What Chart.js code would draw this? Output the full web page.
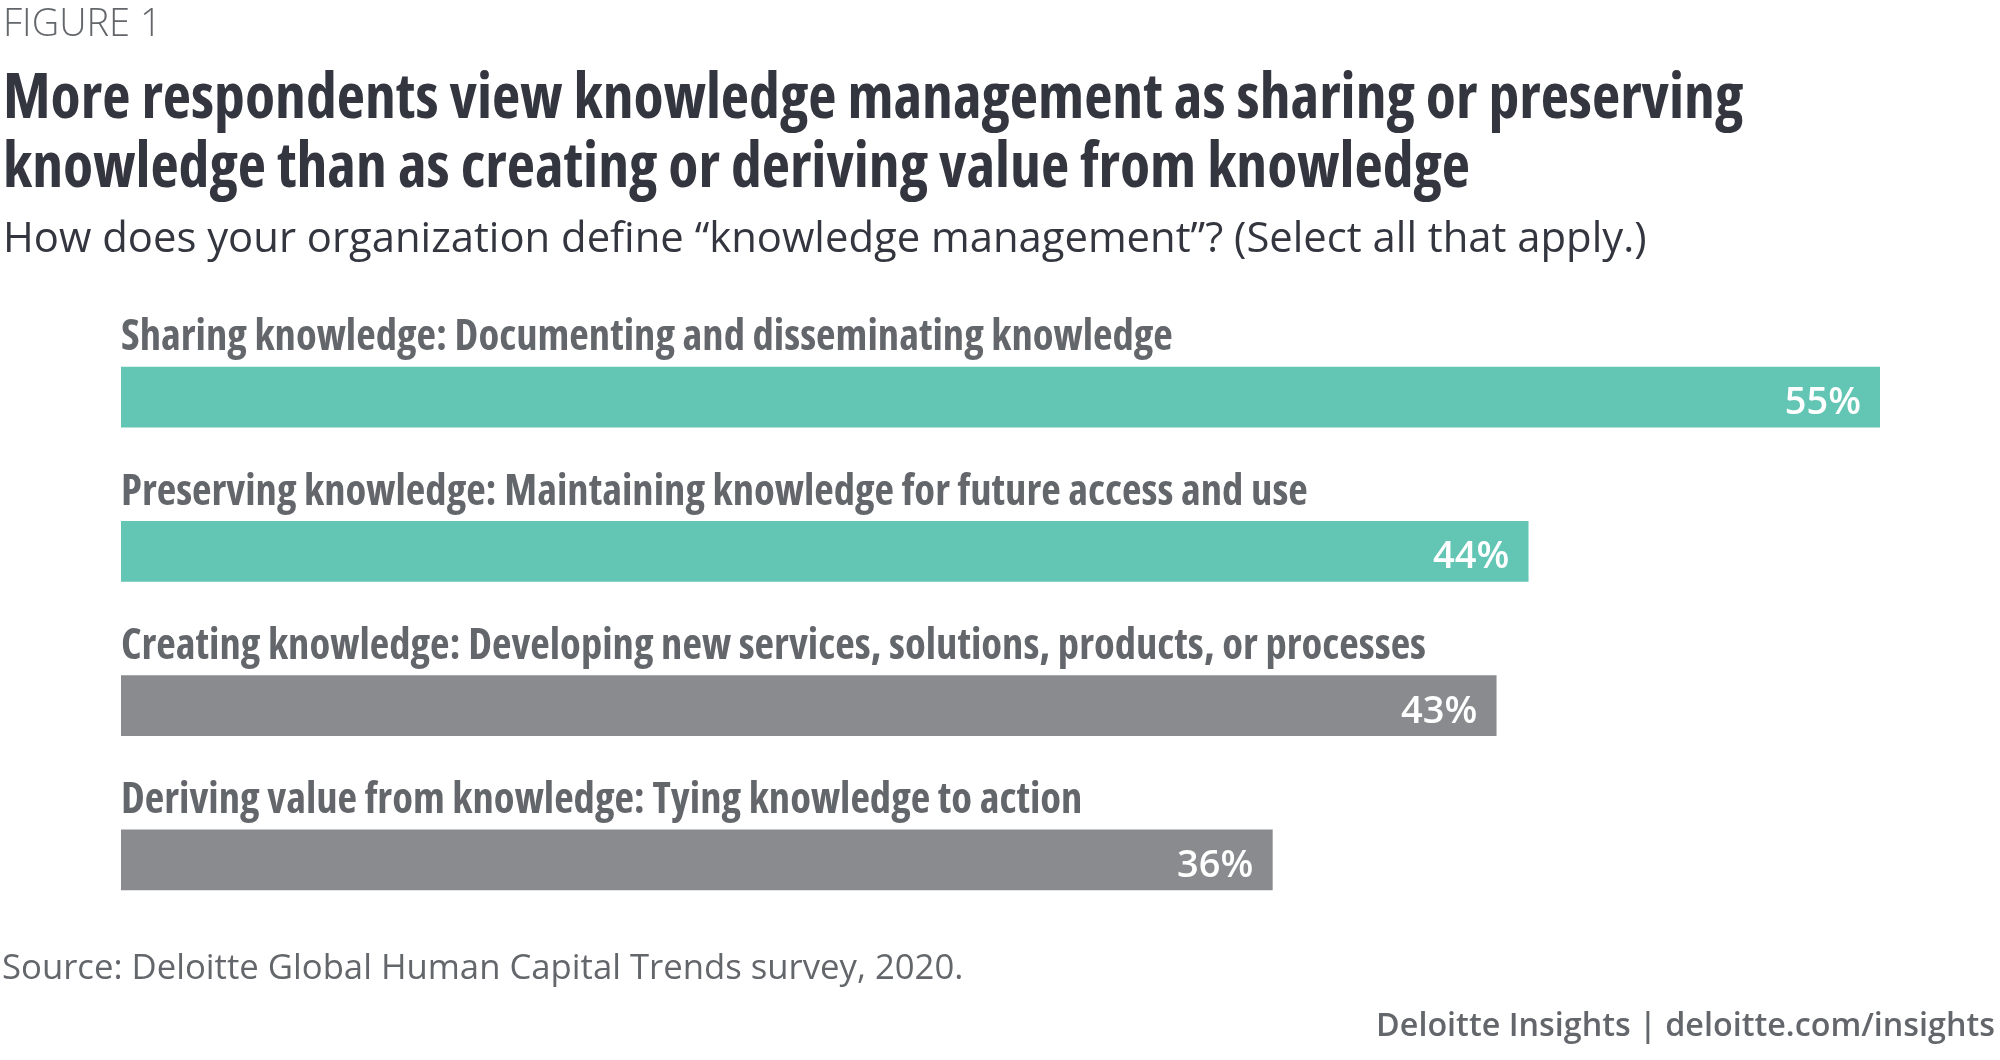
<!DOCTYPE html>
<html>
<head>
<meta charset="utf-8">
<script src="https://cdn.jsdelivr.net/npm/chart.js@4.4.1/dist/chart.umd.min.js"></script>
<style>
html,body{margin:0;padding:0;background:#fff;}
#wrap{position:relative;width:2000px;height:1060px;overflow:hidden;background:#fff;}
#chartBox{position:absolute;left:0;top:0;width:2000px;height:1060px;}
.t{position:absolute;white-space:nowrap;font-family:'Open Sans',sans-serif;margin:0;}
#fig{left:3px;top:2px;font-size:38px;line-height:38px;color:#63666a;font-weight:300;}
#title{left:3px;top:60px;font-size:60px;line-height:69px;font-weight:700;color:#33353f;}
#sub{left:3px;top:215px;font-size:41.8px;line-height:41.8px;color:#33353f;}
#src{left:2px;top:949px;font-size:34.7px;line-height:34.7px;color:#63666a;}
#foot{right:5px;top:1007px;font-size:32.3px;line-height:32.3px;color:#63666a;font-weight:600;}
</style>
</head>
<body>
<div id="wrap">
  <div id="chartBox"><canvas id="c"></canvas></div>
  <div class="t" id="fig">FIGURE 1</div>
  <div class="t" id="title"><span id="tl1">More respondents view knowledge management as sharing or preserving</span><br><span id="tl2">knowledge than as creating or deriving value from knowledge</span></div>
  <div class="t" id="sub">How does your organization define “knowledge management”? (Select all that apply.)</div>
  <div class="t" id="src">Source: Deloitte Global Human Capital Trends survey, 2020.</div>
  <div class="t" id="foot">Deloitte Insights | deloitte.com/insights</div>
</div>
<script>
// ---- data ----
const categories = [
  "Sharing knowledge: Documenting and disseminating knowledge",
  "Preserving knowledge: Maintaining knowledge for future access and use",
  "Creating knowledge: Developing new services, solutions, products, or processes",
  "Deriving value from knowledge: Tying knowledge to action"
];
const values = [55, 44, 43, 36];
const valueSuffix = "%";
// ---- styles ----
const barColors = ["#63c5b3", "#63c5b3", "#898b8f", "#898b8f"];

// ---- pick a condensed bold font ----
const probe = document.createElement('canvas').getContext('2d');
function mw(font, text){ probe.font = font; return probe.measureText(text || categories[0]).width; }
function installed(fam){ return Math.abs(mw("bold 40px '"+fam+"', monospace") - mw("bold 40px monospace")) > 0.5; }
let cFam = "'Open Sans'", cStretch = 'normal';
if (mw("condensed bold 40px 'Open Sans'") < mw("bold 40px 'Open Sans'") * 0.92) {
  cStretch = 'condensed';
} else {
  const names = ['Open Sans Condensed','Roboto Condensed','DejaVu Sans Condensed','Liberation Sans Narrow','Arial Narrow'];
  let found = null;
  for (const n of names) { if (installed(n)) { found = n; break; } }
  if (found) cFam = "'" + found + "'";
  else if (mw("condensed bold 40px 'Noto Sans'") < mw("bold 40px 'Noto Sans'") * 0.92) { cFam = "'Noto Sans'"; cStretch = 'condensed'; }
}
function cFont(size){ return (cStretch === 'condensed' ? 'condensed ' : '') + 'bold ' + size + 'px ' + cFam; }

// size condensed texts to match reference widths
const labelTargetW = 1053;
let labelSize = 37 * labelTargetW / mw(cFont(37), categories[0]);
labelSize = Math.round(labelSize * 10) / 10;
const titleText1 = document.getElementById('tl1').textContent;
let titleSize = 60 * 1740 / mw(cFont(60), titleText1);
titleSize = Math.round(titleSize * 10) / 10;

const titleEl = document.getElementById('title');
titleEl.style.fontFamily = cFam + ", sans-serif";
titleEl.style.fontStretch = cStretch;
titleEl.style.fontSize = titleSize + 'px';

// ---- value label plugin ----
const valueLabels = {
  id: 'valueLabels',
  afterDatasetsDraw(chart) {
    const ctx = chart.ctx;
    const meta = chart.getDatasetMeta(0);
    ctx.save();
    ctx.font = "600 38px 'Open Sans'";
    ctx.fillStyle = '#ffffff';
    ctx.textAlign = 'right';
    ctx.textBaseline = 'alphabetic';
    meta.data.forEach((bar, i) => {
      ctx.fillText(values[i] + valueSuffix, bar.x - 19, bar.y + 17);
    });
    ctx.restore();
  }
};

new Chart(document.getElementById('c'), {
  type: 'bar',
  data: {
    labels: categories,
    datasets: [{
      data: values,
      backgroundColor: barColors,
      borderWidth: 0,
      barThickness: 60
    }]
  },
  options: {
    indexAxis: 'y',
    responsive: true,
    maintainAspectRatio: false,
    animation: false,
    layout: { padding: { left: 121, right: 120, top: 320, bottom: 123 } },
    plugins: { legend: { display: false }, tooltip: { enabled: false } },
    scales: {
      x: { min: 0, max: 55, display: false },
      y: {
        grid: { display: false },
        border: { display: false },
        afterFit(scale) { scale.width = 0; },
        ticks: {
          mirror: true,
          padding: 0,
          labelOffset: -59,
          color: '#63666a',
          font: { family: cFam, size: labelSize, weight: (cStretch === 'condensed' ? 'condensed bold' : 'bold') }
        }
      }
    }
  },
  plugins: [valueLabels]
});
</script>
</body>
</html>
